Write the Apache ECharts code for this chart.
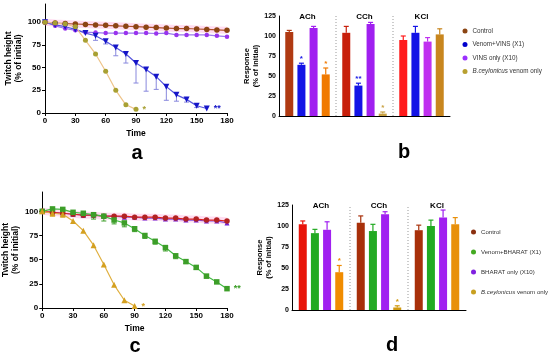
<!DOCTYPE html>
<html><head><meta charset="utf-8">
<script src="https://cdn.jsdelivr.net/npm/echarts@6/dist/echarts.min.js"></script>
<style>html,body{margin:0;padding:0;background:#fff}#c{width:550px;height:358px}</style>
</head><body><div id="c"></div><script>
// ---------- DATA ----------
const timeA = [0,10,20,30,40,50,60,70,80,90,100,110,120,130,140,150,160,170,180];
const controlA = [100,99,98.5,98,97.5,97,96.5,96,95.5,95,94.5,94,93.5,93,93,92.5,92,91.5,91];
const vinsA = [100,96,93,91,89,88.5,88,88,88,88,88,87.5,88,86,86,86,86,85,84];
const venomVinsA = [100,97,95,92,88,85,79,72,65,55,48,40,29,20,15,8,5];
const venomVinsLowA = [null,null,null,null,null,80,76,63,55,33,24,26,14,13,12,6,null];
const ceyA = [100,99,98,95,80,65,46,25,9,4];

const controlC = [100,99,98,97,96,96,95,95,95,94,94,94,93,93,92,92,91,91,90];
const bharatC = [100,99,98,97,96,96,95,95,94,94,93,93,92,92,91,91,90,90,88];
const venomBharatC = [100,102.5,102,99,98,96.5,95,91,88,82,75,69,62.5,54,48,42,33,27,20];
const venomBharatLowC = [null,97,97,95,94,92,90,87,84,79,72,66,59,51,46,40,31,null,null];
const ceyC = [100,98,97,90,80,65,45,24,8,2];
const ceyLowC = [null,95,94,null,null,null,null,null,null,null];

const barCats = ['ACh','CCh','KCl'];
const bControl = [105,104,95],    bControlTop = [107,112,100];
const bVenomVins = [64,38,104],   bVenomVinsTop = [66,41,112];
const bVins = [110,115,93],       bVinsTop = [112,117,98];
const bCey = [52,3,102],          bCeyTop = [60,5,109];
const bVenomVinsStars = ['*','**',''];
const bCeyStars = ['*','*',''];

const dControl = [102,104,95],      dControlTop = [106,112,101];
const dVenomBharat = [91.5,94,100], dVenomBharatTop = [96,102,107];
const dBharat = [95.5,114,110],     dBharatTop = [105,117,119];
const dCey = [45,3,102],            dCeyTop = [53,5,110];
const dCeyStars = ['*','*',''];

const lineTicks = [0,25,50,75,100];
const separators = [0,1];

// ---------- STYLE ----------
const FONT = 'Liberation Sans';
const BW = 8, GAP = '52%', PITCH = 8 * 1.52;
const bCol = {
  control: ['#B03A12','#C8200C','#FF1A1A'],
  vv: ['#1414E6','#1414E6','#1414E6'],
  vins: ['#A020F0','#A020F0','#C030F0'],
  cey: ['#F07A00','#C8A040','#C8861E']
};
const dCol = {
  control: ['#E8140A','#A8300A','#A8300A'],
  vb: ['#22AA22','#22AA22','#22AA22'],
  bh: ['#A020F0','#A020F0','#A020F0'],
  cey: ['#F08C00','#D09A10','#E8900A']
};

const chart = echarts.init(document.getElementById('c'), null, {renderer:'canvas'});

function pairs(t, v) { return v.map((y,i)=>[t[i], y]); }
function withEndLabel(arr, text, color) {
  const last = arr.length - 1;
  return arr.map((p,i)=> i===last ? {value:p, label:{show:true, formatter:text, position:'right', distance:4, color:color, fontSize:9, fontWeight:'bold', fontFamily:FONT}} : p);
}
function lineErr(xi, yi, t, v, low, col) {
  return {type:'custom', xAxisIndex:xi, yAxisIndex:yi, silent:true, z:1,
    data: v.map((y,i)=> low[i]==null ? null : [t[i], y, low[i]]).filter(Boolean),
    renderItem(params, api){
      const p = api.coord([api.value(0), api.value(1)]);
      const q = api.coord([api.value(0), api.value(2)]);
      return {type:'group', children:[
        {type:'line', shape:{x1:p[0],y1:p[1],x2:q[0],y2:q[1]}, style:{stroke:col,lineWidth:1}},
        {type:'line', shape:{x1:q[0]-2.5,y1:q[1],x2:q[0]+2.5,y2:q[1]}, style:{stroke:col,lineWidth:1}}
      ]};
    }};
}
function lineS(name, xi, yi, data, mcol, lcol, symbol, size, rot) {
  return {type:'line', name, xAxisIndex:xi, yAxisIndex:yi, data, symbol, symbolSize:size, symbolRotate:rot||0,
    itemStyle:{color:mcol}, lineStyle:{color:lcol, width:1.2}, z:3};
}
function band(xi, yi, data) {
  return {type:'line', xAxisIndex:xi, yAxisIndex:yi, data, symbol:'none', silent:true, z:0,
    lineStyle:{color:'rgba(255,130,200,0.28)', width:7}};
}
function barS(name, xi, yi, vals, cols, legendCol) {
  return {type:'bar', name, xAxisIndex:xi, yAxisIndex:yi, barWidth:BW, barGap:GAP,
    itemStyle:{color:legendCol},
    data: vals.map((v,i)=>({value:v, itemStyle:{color:cols[i]}})), z:2};
}
function barErr(xi, yi, slot, vals, tops, cols, stars) {
  return {type:'custom', xAxisIndex:xi, yAxisIndex:yi, silent:true, z:3,
    data: vals.map((v,i)=>[i, v, tops[i]]),
    renderItem(params, api){
      const i = params.dataIndex;
      const b = api.coord([api.value(0), api.value(1)]);
      const t = api.coord([api.value(0), api.value(2)]);
      const x = b[0] + (slot - 1.5) * PITCH;
      const col = cols[i];
      const ch = [
        {type:'line', shape:{x1:x,y1:b[1],x2:x,y2:t[1]}, style:{stroke:col,lineWidth:1.2}},
        {type:'line', shape:{x1:x-2.5,y1:t[1],x2:x+2.5,y2:t[1]}, style:{stroke:col,lineWidth:1.2}}
      ];
      if (stars && stars[i]) ch.push({type:'text', x:x, y:t[1]-0.5,
        style:{text:stars[i], fill:col, font:'bold 8px '+FONT, textAlign:'center', textVerticalAlign:'bottom'}});
      return {type:'group', children:ch};
    }};
}
function sepS(xi, yi, ymax) {
  return {type:'custom', xAxisIndex:xi, yAxisIndex:yi, silent:true, z:1,
    data: separators.map(i=>[i, 0, ymax]),
    renderItem(params, api){
      const i = api.value(0);
      const a = api.coord([i, api.value(1)]);
      const b = api.coord([i+1, api.value(1)]);
      const top = api.coord([i, api.value(2)]);
      const x = (a[0]+b[0])/2;
      return {type:'line', shape:{x1:x,y1:a[1],x2:x,y2:top[1]}, style:{stroke:'#999',lineWidth:1,lineDash:[1,2]}};
    }};
}

const axLine = {lineStyle:{color:'#000', width:1}};
const axTick = {length:3, lineStyle:{color:'#000'}};
function valX(grid) {
  return {gridIndex:grid, type:'value', min:0, max:180, interval:30, splitLine:{show:false},
    axisLine:axLine, axisTick:axTick,
    axisLabel:{fontFamily:FONT, fontSize:8, fontWeight:'bold', color:'#000', margin:4},
    name:'Time', nameLocation:'middle', nameGap:16,
    nameTextStyle:{fontFamily:FONT, fontSize:8.5, fontWeight:'bold', color:'#000'}};
}
function valYLine(grid) {
  return {gridIndex:grid, type:'value', min:0, max:120, splitLine:{show:false},
    axisLine:{show:true, ...axLine}, axisTick:{show:true, customValues:lineTicks, ...axTick},
    axisLabel:{customValues:lineTicks, fontFamily:FONT, fontSize:8, fontWeight:'bold', color:'#000', margin:4},
    name:'Twitch height\n(% of initial)', nameLocation:'middle', nameGap:20, nameRotate:90,
    nameTextStyle:{fontFamily:FONT, fontSize:8.5, fontWeight:'bold', color:'#000', lineHeight:10}};
}
function valYBar(grid) {
  return {gridIndex:grid, type:'value', min:0, max:125, interval:25, splitLine:{show:false},
    axisLine:{show:true, ...axLine}, axisTick:axTick,
    axisLabel:{fontFamily:FONT, fontSize:7, fontWeight:'bold', color:'#000', margin:3},
    name:'Response\n(% of initial)', nameLocation:'middle', nameGap:17, nameRotate:90,
    nameTextStyle:{fontFamily:FONT, fontSize:7.5, fontWeight:'bold', color:'#000', lineHeight:9}};
}
function catX(grid) {
  return {gridIndex:grid, type:'category', data:barCats, axisLine:axLine,
    axisTick:{show:false}, axisLabel:{show:false}};
}
function catTop(grid) {
  return {gridIndex:grid, type:'category', data:barCats, position:'top', axisLine:{show:false},
    axisTick:{show:false}, axisLabel:{margin:-5, fontFamily:FONT, fontSize:8, fontWeight:'bold', color:'#000'}};
}

const legendFmt = n => n.startsWith('B.ceylonicus') ? '{i|B.ceylonicus} venom only' : n;
function legendText(fs) {
  return {fontFamily:FONT, fontSize:fs, color:'#333', rich:{i:{fontFamily:FONT, fontStyle:'italic', fontSize:fs, color:'#333'}}};
}

const option = {
  animation:false,
  backgroundColor:'#fff',
  grid:[
    {left:45, top:4, width:182, height:109},
    {left:279, top:16, width:171, height:100},
    {left:42, top:192, width:185, height:116},
    {left:292, top:205, width:174, height:105}
  ],
  xAxis:[valX(0), catX(1), catTop(1), valX(2), catX(3), catTop(3)],
  yAxis:[valYLine(0), valYBar(1), valYLine(2), valYBar(3)],
  legend:[
    {orient:'vertical', left:457.5, top:23, itemGap:7.5, itemWidth:5, itemHeight:5, icon:'circle', selectedMode:false,
      formatter:legendFmt, textStyle:legendText(6.3),
      data:[{name:'Control', itemStyle:{color:'#8B4513'}}, {name:'Venom+VINS (X1)', itemStyle:{color:'#0000CD'}},
            {name:'VINS only (X10)', itemStyle:{color:'#9B30FF'}}, {name:'B.ceylonicus venom only', itemStyle:{color:'#B8A030'}}]},
    {orient:'vertical', left:466, top:224, itemGap:14, itemWidth:5, itemHeight:5, icon:'circle', selectedMode:false,
      formatter:legendFmt, textStyle:legendText(6.1),
      data:[{name:'Control', itemStyle:{color:'#8B3010'}}, {name:'Venom+BHARAT (X1)', itemStyle:{color:'#44AA22'}},
            {name:'BHARAT only (X10)', itemStyle:{color:'#8020E0'}}, {name:'B.ceylonicus venom only', itemStyle:{color:'#C8A020'}}]}
  ],
  graphic:[
    {type:'text', x:137, y:153, style:{text:'a', font:'bold 20px '+FONT, fill:'#000', textAlign:'center', textVerticalAlign:'middle'}},
    {type:'text', x:404, y:152, style:{text:'b', font:'bold 20px '+FONT, fill:'#000', textAlign:'center', textVerticalAlign:'middle'}},
    {type:'text', x:135, y:346, style:{text:'c', font:'bold 20px '+FONT, fill:'#000', textAlign:'center', textVerticalAlign:'middle'}},
    {type:'text', x:392, y:345, style:{text:'d', font:'bold 20px '+FONT, fill:'#000', textAlign:'center', textVerticalAlign:'middle'}}
  ],
  series:[
    // panel a
    band(0,0,pairs(timeA, controlA)),
    lineErr(0,0,timeA, venomVinsA, venomVinsLowA, '#8888DD'),
    lineS('Control',0,0,pairs(timeA, controlA),'#8B4513','#B0502A','circle',5.5),
    lineS('VINS only (X10)',0,0,pairs(timeA, vinsA),'#9933EE','#9977EE','circle',4.5),
    lineS('Venom+VINS (X1)',0,0,withEndLabel(pairs(timeA, venomVinsA),'**','#1515C8'),'#1515C8','#5555DD','triangle',6,180),
    lineS('B.ceylonicus venom only',0,0,withEndLabel(pairs(timeA, ceyA),'*','#A8A032'),'#A8A032','#EEC48A','circle',5),
    // panel b
    sepS(1,1,125),
    barS('Control',1,1,bControl,bCol.control,'#8B4513'),
    barS('Venom+VINS (X1)',1,1,bVenomVins,bCol.vv,'#0000CD'),
    barS('VINS only (X10)',1,1,bVins,bCol.vins,'#9B30FF'),
    barS('B.ceylonicus venom only',1,1,bCey,bCol.cey,'#B8A030'),
    barErr(1,1,0,bControl,bControlTop,bCol.control,null),
    barErr(1,1,1,bVenomVins,bVenomVinsTop,bCol.vv,bVenomVinsStars),
    barErr(1,1,2,bVins,bVinsTop,bCol.vins,null),
    barErr(1,1,3,bCey,bCeyTop,bCol.cey,bCeyStars),
    // panel c
    band(3,2,pairs(timeA, controlC)),
    lineErr(3,2,timeA, venomBharatC, venomBharatLowC, '#3C9E28'),
    lineErr(3,2,timeA, ceyC, ceyLowC, '#D4A020'),
    lineS('BHARAT only (X10)',3,2,pairs(timeA, bharatC),'#7020D0','#8050E0','triangle',5),
    lineS('Control',3,2,pairs(timeA, controlC),'#B22222','#E02020','circle',5.5),
    lineS('Venom+BHARAT (X1)',3,2,withEndLabel(pairs(timeA, venomBharatC),'**','#3C9E28'),'#3C9E28','#44BB44','rect',5.5),
    lineS('B.ceylonicus venom only',3,2,withEndLabel(pairs(timeA, ceyC),'*','#D4A020'),'#D4A020','#E0B040','triangle',6),
    // panel d
    sepS(4,3,125),
    barS('Control',4,3,dControl,dCol.control,'#8B3010'),
    barS('Venom+BHARAT (X1)',4,3,dVenomBharat,dCol.vb,'#44AA22'),
    barS('BHARAT only (X10)',4,3,dBharat,dCol.bh,'#8020E0'),
    barS('B.ceylonicus venom only',4,3,dCey,dCol.cey,'#C8A020'),
    barErr(4,3,0,dControl,dControlTop,dCol.control,null),
    barErr(4,3,1,dVenomBharat,dVenomBharatTop,dCol.vb,null),
    barErr(4,3,2,dBharat,dBharatTop,dCol.bh,null),
    barErr(4,3,3,dCey,dCeyTop,dCol.cey,dCeyStars)
  ]
};
chart.setOption(option);
</script></body></html>
